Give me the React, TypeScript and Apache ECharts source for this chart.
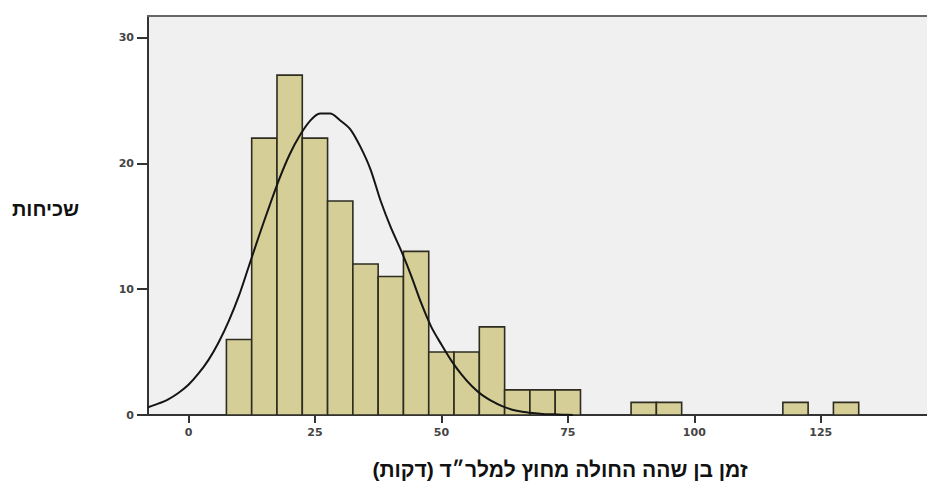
import React, { useEffect, useRef } from "react";
import * as echarts from "echarts";

// Histogram bins (minutes) and counts
const binStarts = [7.5, 12.5, 17.5, 22.5, 27.5, 32.5, 37.5, 42.5, 47.5, 52.5, 57.5, 62.5, 67.5, 72.5, 87.5, 92.5, 117.5, 127.5];
const binWidth = 5;
const counts = [6, 22, 27, 22, 17, 12, 11, 13, 5, 5, 7, 2, 2, 2, 1, 1, 1, 1];

// Normal curve
const curveX = [-8, -6, -4, -2, 0, 2, 4, 6, 8, 10, 12, 14, 16, 18, 20, 22, 24, 26, 28, 30, 32, 34, 36, 38, 40, 42, 44, 46, 48, 50, 52, 54, 56, 58, 60, 62, 64, 66, 68, 70, 72, 74, 76];
const curveY = [0.62, 0.9, 1.25, 1.75, 2.4, 3.3, 4.4, 5.8, 7.5, 9.5, 11.9, 14.3, 16.6, 18.8, 20.7, 22.2, 23.35, 23.95, 23.95, 23.4, 22.7, 21.3, 19.5, 17.0, 14.9, 13.1, 11.1, 8.9, 7.0, 5.6, 4.3, 3.2, 2.3, 1.6, 1.1, 0.7, 0.42, 0.25, 0.15, 0.08, 0.05, 0.02, 0];

const xTicks = [0, 25, 50, 75, 100, 125];
const yTicks = [0, 10, 20, 30];

const yTitle = "שכיחות";
const xTitle = "זמן בן שהה החולה מחוץ למלר״ד (דקות)";

export default function App() {
  const ref = useRef<HTMLDivElement>(null);
  useEffect(() => {
    if (!ref.current) return;
    const chart = echarts.init(ref.current, null, { renderer: "svg" });
    const barData = binStarts.map((s, i) => [s, s + binWidth, counts[i]]);
    const labelStyle = {
      color: "#444",
      fontSize: 11,
      fontWeight: "bold" as const,
      fontFamily: "DejaVu Sans",
    };
    chart.setOption({
      animation: false,
      backgroundColor: "#ffffff",
      grid: {
        left: 148,
        top: 16,
        right: 0,
        bottom: 67,
        show: true,
        backgroundColor: "#f0f0f0",
        borderWidth: 0,
      },
      xAxis: [
        {
          type: "value",
          min: -8,
          max: 146,
          splitLine: { show: false },
          axisLine: { show: true, onZero: false, lineStyle: { color: "#333", width: 2 } },
          axisTick: { show: true, length: 8, customValues: xTicks, lineStyle: { color: "#333", width: 2 } },
          axisLabel: { ...labelStyle, margin: 12, customValues: xTicks },
        },
        {
          type: "value",
          position: "top",
          min: -8,
          max: 146,
          splitLine: { show: false },
          axisLine: { show: true, onZero: false, lineStyle: { color: "#666", width: 2 } },
          axisTick: { show: false },
          axisLabel: { show: false },
        },
      ],
      yAxis: {
        type: "value",
        min: 0,
        max: 31.7,
        position: "left",
        splitLine: { show: false },
        axisLine: { show: true, onZero: false, lineStyle: { color: "#333", width: 2 } },
        axisTick: { show: true, length: 11, customValues: yTicks, lineStyle: { color: "#333", width: 2 } },
        axisLabel: { ...labelStyle, margin: 14, customValues: yTicks },
      },
      graphic: [
        {
          type: "text",
          left: 12,
          top: 199,
          style: {
            text: yTitle,
            fill: "#111",
            font: "bold 20px 'Liberation Sans', Arial, sans-serif",
          },
        },
        {
          type: "text",
          x: 560,
          y: 469,
          style: {
            text: "\u200F" + xTitle + "\u200F",
            fill: "#111",
            align: "center",
            verticalAlign: "middle",
            font: "bold 21px 'Liberation Sans', Arial, sans-serif",
          },
        },
      ],
      series: [
        {
          type: "custom",
          xAxisIndex: 0,
          yAxisIndex: 0,
          data: barData,
          clip: true,
          renderItem: (params: any, api: any) => {
            const x0 = api.value(0);
            const x1 = api.value(1);
            const v = api.value(2);
            const p0 = api.coord([x0, v]);
            const p1 = api.coord([x1, 0]);
            return {
              type: "rect",
              shape: { x: p0[0], y: p0[1], width: p1[0] - p0[0], height: p1[1] - p0[1] },
              style: { fill: "#d5cf97", stroke: "#2e2c20", lineWidth: 1.6 },
            };
          },
          z: 2,
        },
        {
          type: "line",
          xAxisIndex: 0,
          yAxisIndex: 0,
          data: curveX.map((x, i) => [x, curveY[i]]),
          smooth: 0.3,
          showSymbol: false,
          clip: true,
          lineStyle: { color: "#151515", width: 2 },
          z: 3,
        },
      ],
    });
    return () => chart.dispose();
  }, []);
  return (
    <div
      ref={ref}
      style={{ position: "absolute", left: 0, top: 0, width: 927, height: 482 }}
    />
  );
}
